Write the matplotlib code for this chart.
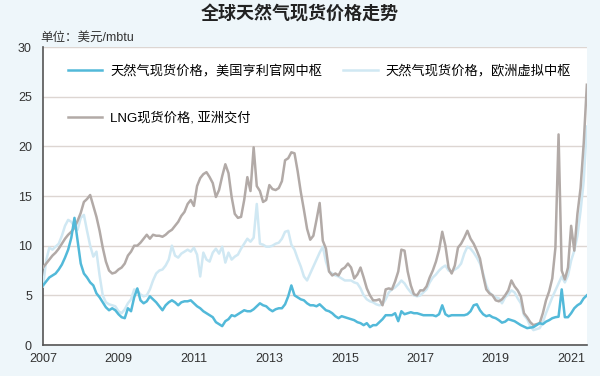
import numpy as np
import matplotlib
matplotlib.use('Agg')
import matplotlib.pyplot as plt

plt.rcParams['font.family'] = ['Liberation Sans', 'Noto Sans CJK SC']

# monthly values from 2007-01
henry_hub = [
    6.0, 6.4, 6.8, 7.0, 7.2, 7.6, 8.1, 8.8, 9.6, 10.8, 12.8, 10.5,
    8.2, 7.2, 6.8, 6.3, 6.0, 5.2, 4.8, 4.3, 3.8, 3.5, 3.7, 3.5,
    3.1, 2.8, 2.7, 3.7, 3.4, 4.8, 5.7, 4.5, 4.2, 4.4, 4.9, 4.6,
    4.3, 3.9, 3.5, 4.0, 4.3, 4.5, 4.3, 4.0, 4.3, 4.4, 4.4, 4.5,
    4.2, 3.9, 3.7, 3.4, 3.2, 3.0, 2.8, 2.3, 2.1, 1.9, 2.4, 2.6,
    3.0, 2.9, 3.1, 3.3, 3.5, 3.4, 3.4, 3.6, 3.9, 4.2, 4.0, 3.9,
    3.6, 3.4, 3.6, 3.7, 3.7, 4.1, 4.9, 6.0, 5.0, 4.8, 4.6, 4.5,
    4.2, 4.0, 4.0, 3.9, 4.1, 3.8, 3.5, 3.4, 3.2, 2.9, 2.7, 2.9,
    2.8, 2.7, 2.6, 2.5, 2.3, 2.2, 2.0, 2.2, 1.8, 2.0, 2.0, 2.3,
    2.6, 3.0, 3.0, 3.0, 3.2, 2.4, 3.4, 3.1, 3.2, 3.3, 3.2, 3.2,
    3.1, 3.0, 3.0, 3.0, 3.0, 2.9, 3.1, 4.0, 3.1, 2.9, 3.0, 3.0,
    3.0, 3.0, 3.0, 3.1, 3.4, 4.0, 4.1, 3.5, 3.1, 2.9, 3.0, 2.8,
    2.7, 2.5, 2.25, 2.35, 2.6, 2.5, 2.4, 2.2, 2.0, 1.85, 1.7, 1.75,
    1.8, 2.0, 2.2, 2.1, 2.35, 2.5, 2.7, 2.8, 2.85, 5.6, 2.8, 2.8,
    3.2, 3.7, 4.0, 4.2, 4.7, 5.0,
]

lng_asia = [
    7.8, 8.2, 8.6, 9.0, 9.3, 9.7, 10.2, 10.7, 11.1, 11.4, 11.8, 12.5,
    13.3, 14.4, 14.7, 15.1, 14.0, 12.9, 11.5, 9.8, 8.4, 7.5, 7.2, 7.3,
    7.6, 7.8, 8.2, 9.0, 9.4, 10.0, 10.0, 10.3, 10.7, 11.1, 10.7, 11.1,
    11.0, 11.0, 10.9, 11.1, 11.4, 11.6, 12.0, 12.4, 13.0, 13.4, 14.2, 14.6,
    14.0, 16.0, 16.8, 17.2, 17.4, 16.9, 16.3, 14.9, 15.6, 17.0, 18.2, 17.3,
    14.9, 13.2, 12.8, 12.9, 14.6, 16.9, 15.5, 19.9, 16.0, 15.5, 14.4, 14.6,
    16.1, 15.7, 15.6, 15.8, 16.5, 18.6, 18.8, 19.4, 19.3, 17.5, 15.4, 13.6,
    11.7, 10.6, 11.0, 12.6, 14.3, 10.5, 9.7, 7.4, 7.0, 7.2, 7.0, 7.6,
    7.8, 8.2, 7.8, 6.7, 7.1, 7.8, 6.8, 5.7, 5.0, 4.5, 4.5, 4.6,
    4.0, 5.6, 5.7, 5.6, 6.4, 7.4, 9.6, 9.5, 7.4, 6.0, 5.1, 5.0,
    5.5, 5.5, 5.9, 6.8, 7.5, 8.4, 9.6, 11.4, 10.0, 7.8, 7.2, 8.0,
    9.8, 10.2, 10.8, 11.5, 10.7, 10.2, 9.5, 8.7, 7.0, 5.6, 5.2, 5.0,
    4.5, 4.4, 4.6, 5.0, 5.5, 6.5, 5.9, 5.5, 4.9, 3.2, 2.8, 2.3,
    2.0, 2.1, 2.2, 3.2, 4.5, 5.4, 6.7, 9.8, 21.2, 7.5, 6.6, 7.8,
    12.0, 9.5, 13.2, 15.8, 20.3, 26.2,
]

nbp_europe = [
    5.9, 8.5, 9.8, 9.6, 9.9, 10.2, 11.0, 12.0, 12.6, 12.4, 11.9, 11.6,
    12.8, 13.1, 11.5, 10.0, 8.9, 9.4, 7.0, 5.0, 4.3, 4.1, 4.0, 3.9,
    3.4, 3.2, 3.6, 4.2, 4.6, 5.6, 5.5, 5.1, 4.9, 5.0, 5.6, 6.5,
    7.2, 7.5, 7.6, 8.0, 8.6, 10.0, 9.0, 8.8, 9.2, 9.4, 9.6, 9.4,
    9.8, 9.1, 6.9, 9.3, 8.6, 8.4, 9.3, 9.7, 9.2, 9.9, 8.3, 9.3,
    8.6, 8.9, 9.1, 9.7, 10.2, 10.7, 10.4, 10.8, 14.2, 10.2, 10.1, 9.9,
    9.9, 10.0, 10.2, 10.3, 10.7, 11.4, 11.5, 10.1, 9.6, 8.7, 7.9, 6.9,
    6.5, 7.2, 7.9, 8.6, 9.3, 9.9, 8.4, 7.4, 7.2, 7.0, 6.9, 6.7,
    6.5, 6.5, 6.5, 6.3, 6.2, 5.7, 5.0, 4.6, 4.4, 4.3, 4.1, 4.0,
    4.1, 4.6, 5.3, 5.6, 5.8, 6.1, 6.5, 6.2, 5.7, 5.3, 5.0, 4.9,
    5.0, 5.3, 5.6, 6.3, 6.8, 7.1, 7.5, 7.8, 8.0, 7.5, 7.4, 7.6,
    7.8, 8.2, 9.2, 9.9, 9.7, 9.3, 8.8, 8.2, 7.2, 6.0, 5.3, 5.0,
    4.8, 4.7, 4.2, 4.8, 5.1, 5.5, 5.3, 4.7, 4.2, 3.0, 2.6, 1.9,
    1.5, 1.6, 1.7, 2.3, 3.2, 4.0, 4.8, 5.5, 6.2, 6.9, 6.3, 7.0,
    8.5, 9.5, 11.0, 13.5, 16.5, 22.0,
]

year_ticks = [2007, 2009, 2011, 2013, 2015, 2017, 2019, 2021]
y_ticks = [0, 5, 10, 15, 20, 25, 30]

months = np.arange(len(henry_hub))
x = 2007 + months / 12

bg = '#eef6fa'
fig = plt.figure(figsize=(6, 3.76), dpi=100, facecolor=bg)
ax = fig.add_axes([0.0717, 0.0824, 0.9066, 0.7926])
ax.set_facecolor('white')

ax.plot(x, nbp_europe, color='#d0e8f3', lw=1.8, label='天然气现货价格，欧洲虚拟中枢', zorder=3)
ax.plot(x, lng_asia, color='#b2aaa7', lw=1.8, label='LNG现货价格, 亚洲交付', zorder=4)
ax.plot(x, henry_hub, color='#52b9d9', lw=1.8, label='天然气现货价格，美国亨利官网中枢', zorder=5)

ax.set_xlim(2007, 2021.42)
ax.set_ylim(0, 30)
ax.set_xticks(year_ticks)
ax.set_xticklabels([str(y) for y in year_ticks])
ax.set_yticks(y_ticks)
ax.tick_params(length=0, labelsize=9, colors='#333333')
ax.tick_params(axis='x', pad=6)
ax.tick_params(axis='y', pad=8)
ax.grid(axis='y', color='#ddd6d2', lw=1)
ax.set_axisbelow(True)
for s in ['top', 'right']:
    ax.spines[s].set_visible(False)
ax.spines['left'].set_color('#555555')
ax.spines['bottom'].set_color('#555555')
ax.spines['left'].set_linewidth(1.2)
ax.spines['bottom'].set_linewidth(1.2)

handles, labels = ax.get_legend_handles_labels()
order = [2, 1, 0]
ax.legend([handles[i] for i in order], [labels[i] for i in order],
          ncol=2, loc='upper left', bbox_to_anchor=(0.046, 0.94),
          frameon=False, fontsize=9.5, handlelength=2.6, handletextpad=0.6,
          labelspacing=2.6, columnspacing=1.6, borderpad=0, borderaxespad=0)

fig.text(0.5, 0.96, '全球天然气现货价格走势', ha='center', va='center',
         fontsize=13, fontweight='bold', color='#222222')
fig.text(0.067, 0.9, '单位：美元/mbtu', ha='left', va='center', fontsize=9, color='#333333')

fig.savefig('out.png', dpi=100, facecolor=bg)
